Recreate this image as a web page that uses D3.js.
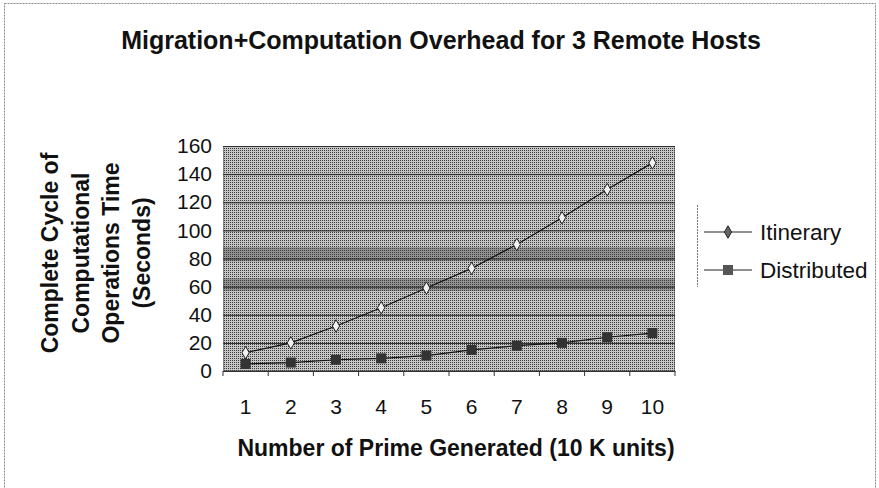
<!DOCTYPE html>
<html>
<head>
<meta charset="utf-8">
<script src="https://cdn.jsdelivr.net/npm/d3@7"></script>
<style>
  body { margin: 0; background: #fff; }
  svg text { font-family: "Liberation Sans", Arial, sans-serif; fill: #111; }
</style>
</head>
<body>
<svg width="879" height="488"></svg>
<script>
// chart data
var categories = ['1', '2', '3', '4', '5', '6', '7', '8', '9', '10'];
var itinerary = [13, 20, 32, 45, 59, 73, 90, 109, 129, 148];
var distributed = [5, 6, 8, 9, 11, 15, 18, 20, 24, 27];
var yTicks = [0, 20, 40, 60, 80, 100, 120, 140, 160];
var shadeBands = [[78, 88], [57, 66]];

var svg = d3.select('svg');

// plot box
var pLeft = 223, pRight = 675, pTop = 146, pBottom = 371;

var x = d3.scaleBand().domain(categories).range([pLeft, pRight]);
var y = d3.scaleLinear().domain([0, 160]).range([pBottom, pTop]);

// outer border of the chart
svg.append('rect')
    .attr('x', 4.5).attr('y', 3.5)
    .attr('width', 871).attr('height', 490)
    .style('fill', 'none')
    .style('stroke', '#888')
    .style('stroke-dasharray', '2,1');

// halftone-ish grey fill for the plot area
var defs = svg.append('defs');
var pat = defs.append('pattern')
    .attr('id', 'dots')
    .attr('width', 2).attr('height', 2)
    .attr('patternUnits', 'userSpaceOnUse');
pat.append('rect').attr('width', 2).attr('height', 2).style('fill', '#c6c6c6');
pat.append('rect').attr('width', 1).attr('height', 1).style('fill', '#3a3a3a');

svg.append('rect')
    .attr('x', pLeft).attr('y', pTop)
    .attr('width', pRight - pLeft).attr('height', pBottom - pTop)
    .style('fill', 'url(#dots)');

svg.selectAll('rect.band')
    .data(shadeBands)
    .enter().append('rect')
    .attr('class', 'band')
    .attr('x', pLeft)
    .attr('y', function(d) { return y(d[1]); })
    .attr('width', pRight - pLeft)
    .attr('height', function(d) { return y(d[0]) - y(d[1]); })
    .style('fill', '#444')
    .style('opacity', 0.4);

// gridlines
svg.append('g')
    .attr('transform', 'translate(' + pLeft + ',0)')
    .call(d3.axisLeft(y).tickValues(yTicks).tickSize(-(pRight - pLeft)).tickFormat(''))
    .call(function(g) {
        g.select('.domain').remove();
        g.selectAll('line').style('stroke', '#222').style('stroke-width', 1);
    });

// plot border
svg.append('rect')
    .attr('x', pLeft + 0.5).attr('y', pTop + 0.5)
    .attr('width', pRight - pLeft - 1).attr('height', pBottom - pTop - 1)
    .style('fill', 'none')
    .style('stroke', '#444')
    .style('stroke-dasharray', '1,1');

// y axis labels
svg.append('g')
    .attr('transform', 'translate(' + pLeft + ',0)')
    .call(d3.axisLeft(y).tickValues(yTicks).tickSize(0).tickPadding(11))
    .call(function(g) {
        g.select('.domain').remove();
        g.selectAll('text')
            .style('font-size', '21px')
            .style('font-family', '"Liberation Sans", Arial, sans-serif')
            .style('fill', '#111');
    });

// x axis
svg.append('g')
    .attr('transform', 'translate(0,' + pBottom + ')')
    .call(d3.axisBottom(x).tickSize(0).tickPadding(28))
    .call(function(g) {
        g.select('.domain').style('stroke', '#333');
        g.selectAll('text')
            .style('font-size', '21px')
            .style('font-family', '"Liberation Sans", Arial, sans-serif')
            .style('fill', '#111');
    });

// small tick marks between categories
svg.append('g')
    .selectAll('line')
    .data(categories.concat(['end']))
    .enter().append('line')
    .attr('x1', function(d, i) { return pLeft + i * x.bandwidth(); })
    .attr('x2', function(d, i) { return pLeft + i * x.bandwidth(); })
    .attr('y1', pBottom)
    .attr('y2', pBottom + 5)
    .style('stroke', '#333');

var cx = function(d, i) { return x(categories[i]) + x.bandwidth() / 2; };

var line = d3.line()
    .x(cx)
    .y(function(d) { return y(d); });

svg.append('path')
    .datum(distributed)
    .attr('d', line)
    .style('fill', 'none')
    .style('stroke', '#111')
    .style('stroke-width', 1.2);

svg.append('path')
    .datum(itinerary)
    .attr('d', line)
    .style('fill', 'none')
    .style('stroke', '#111')
    .style('stroke-width', 1.2);

svg.selectAll('rect.dist')
    .data(distributed)
    .enter().append('rect')
    .attr('class', 'dist')
    .attr('x', function(d, i) { return cx(d, i) - 5; })
    .attr('y', function(d) { return y(d) - 5; })
    .attr('width', 10).attr('height', 10)
    .style('fill', '#333');

svg.selectAll('path.itin')
    .data(itinerary)
    .enter().append('path')
    .attr('class', 'itin')
    .attr('d', d3.symbol().type(d3.symbolDiamond).size(45))
    .attr('transform', function(d, i) { return 'translate(' + cx(d, i) + ',' + y(d) + ')'; })
    .style('fill', '#f2f2f2')
    .style('stroke', '#222')
    .style('stroke-width', 1);

// title
svg.append('text')
    .attr('x', 441).attr('y', 49)
    .attr('text-anchor', 'middle')
    .style('font-size', '25px')
    .style('font-weight', 'bold')
    .text('Migration+Computation Overhead for 3 Remote Hosts');

// x axis title
svg.append('text')
    .attr('x', 456).attr('y', 456)
    .attr('text-anchor', 'middle')
    .style('font-size', '23px')
    .style('font-weight', 'bold')
    .text('Number of Prime Generated (10 K units)');

// y axis title, four lines
var yTitle = ['Complete Cycle of', 'Computational', 'Operations Time', '(Seconds)'];
svg.append('g')
    .selectAll('text')
    .data(yTitle)
    .enter().append('text')
    .attr('transform', function(d, i) { return 'translate(' + (58 + i * 30.5) + ',253) rotate(-90)'; })
    .attr('text-anchor', 'middle')
    .style('font-size', '23px')
    .style('font-weight', 'bold')
    .text(function(d) { return d; });

// legend
var legend = svg.append('g');
legend.append('line')
    .attr('x1', 697.5).attr('x2', 697.5)
    .attr('y1', 205).attr('y2', 287)
    .style('stroke', '#777')
    .style('stroke-dasharray', '2,1');

var legendItems = [
    { name: 'Itinerary', y: 232 },
    { name: 'Distributed', y: 270 }
];

legendItems.forEach(function(it, i) {
    legend.append('line')
        .attr('x1', 704).attr('x2', 752)
        .attr('y1', it.y).attr('y2', it.y)
        .style('stroke', '#222')
        .style('stroke-width', 1.2);
    if (i === 0) {
        legend.append('path')
            .attr('d', d3.symbol().type(d3.symbolDiamond).size(45))
            .attr('transform', 'translate(728,' + it.y + ')')
            .style('fill', '#666')
            .style('stroke', '#222');
    } else {
        legend.append('rect')
            .attr('x', 723).attr('y', it.y - 5)
            .attr('width', 10).attr('height', 10)
            .style('fill', '#555');
    }
    legend.append('text')
        .attr('x', 760).attr('y', it.y + 8)
        .style('font-size', '22.5px')
        .text(it.name);
});
</script>
</body>
</html>
